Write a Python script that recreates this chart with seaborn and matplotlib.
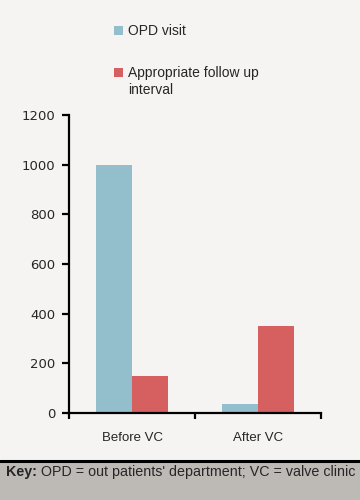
import matplotlib
matplotlib.use("Agg")
import matplotlib.pyplot as plt
import seaborn as sns
import pandas as pd
from matplotlib.patches import Rectangle
from matplotlib.lines import Line2D
from matplotlib.legend_handler import HandlerPatch

# data
periods = ["Before VC", "After VC"]
opd_visit = [1000, 35]
follow_up = [150, 350]
series_names = ["OPD visit", "Appropriate follow up\ninterval"]
y_ticks = [0, 200, 400, 600, 800, 1000, 1200]

BG = "#f6f4f3"
BLUE = "#93bfcd"
RED = "#d65f5f"
KEY_BG = "#bdb9b5"

df = pd.DataFrame({
    "period": periods * 2,
    "count": opd_visit + follow_up,
    "series": [series_names[0]] * 2 + [series_names[1]] * 2,
})

sns.set_style("white")
plt.rcParams["font.family"] = ["Liberation Sans", "DejaVu Sans"]

fig = plt.figure(figsize=(3.6, 5.0), dpi=100, facecolor=BG)
ax = fig.add_axes([69 / 360, 87 / 500, 252 / 360, 298 / 500], facecolor=BG)

sns.barplot(data=df, x="period", y="count", hue="series", order=periods,
            hue_order=series_names, palette=[BLUE, RED], width=0.57,
            saturation=1, ax=ax, linewidth=0)

ax.set_xlim(-0.5, 1.5)
ax.set_ylim(0, 1200)
ax.set_yticks(y_ticks)
ax.set_xlabel("")
ax.set_ylabel("")

for side in ["top", "right"]:
    ax.spines[side].set_visible(False)
for side in ["left", "bottom"]:
    ax.spines[side].set_linewidth(1.6)
    ax.spines[side].set_color("black")

ax.tick_params(axis="y", which="major", direction="out", length=5, width=1.6,
               labelsize=9.5, pad=5, left=True, color="black")
for lbl in ax.get_yticklabels():
    lbl.set_fontfamily("DejaVu Sans")
ax.tick_params(axis="x", which="major", length=0, labelsize=9.5, pad=14)
ax.set_xticks([-0.5, 0.5, 1.5], minor=True)
ax.tick_params(axis="x", which="minor", direction="out", length=4, width=1.6,
               bottom=True, color="black")


# legend square sits beside the first line of a two-line label
def top_square(shift):
    def make(legend, orig_handle, xdescent, ydescent, width, height, fontsize):
        s = 0.65 * fontsize
        return Rectangle((-xdescent, -ydescent + (height - s) / 2 + shift * fontsize),
                         s, s)
    return make


handles, labels = ax.get_legend_handles_labels()
ax.get_legend().remove()
fig.legend(handles, labels, loc="upper left",
           bbox_to_anchor=(114 / 360, 1 - 24 / 500), frameon=False,
           fontsize=10, handlelength=0.65, handleheight=0.65,
           handletextpad=0.35, labelspacing=2.05, borderpad=0,
           borderaxespad=0,
           handler_map={handles[0]: HandlerPatch(patch_func=top_square(0)),
                        handles[1]: HandlerPatch(patch_func=top_square(0.72))})

# key band at the bottom
fig.patches.append(Rectangle((0, 0), 1, 38 / 500, transform=fig.transFigure,
                             facecolor=KEY_BG, edgecolor="none", zorder=0))
fig.lines.append(Line2D([0, 1], [39 / 500, 39 / 500],
                        transform=fig.transFigure, color="black", lw=2.2))
key = fig.text(6 / 360, 28 / 500, "Key:", fontsize=10.3, fontweight="bold",
               va="center", ha="left")
fig.canvas.draw()
bb = key.get_window_extent().transformed(fig.transFigure.inverted())
fig.text(bb.x1, 28 / 500, " OPD = out patients' department; VC = valve clinic",
         fontsize=10.3, va="center", ha="left")

fig.savefig("out.png", dpi=100, facecolor=BG)
